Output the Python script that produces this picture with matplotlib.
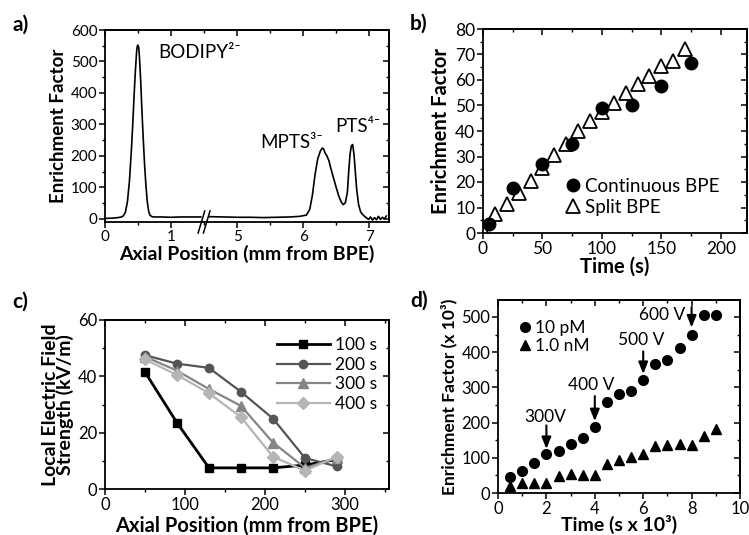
import numpy as np
import matplotlib
matplotlib.use('Agg')
import matplotlib.pyplot as plt
from matplotlib.ticker import MultipleLocator, FixedLocator

plt.rcParams['font.family'] = ['Lato', 'DejaVu Sans']
plt.rcParams['axes.linewidth'] = 1.3

# ---- panel a: electropherogram (real axial position in mm) ----
a_left_pos = [0.00, 0.05, 0.10, 0.15, 0.20, 0.25, 0.28, 0.31, 0.34, 0.37, 0.40, 0.42, 0.44,
              0.46, 0.48, 0.49, 0.50, 0.51, 0.52, 0.54, 0.56, 0.58, 0.60, 0.62, 0.64, 0.66,
              0.68, 0.71, 0.75, 0.85, 1.00, 1.15, 1.30, 1.45]
a_left_val = [1, 2, 2, 3, 4, 6, 10, 22, 55, 120, 220, 300, 390,
              470, 535, 550, 552, 545, 520, 440, 340, 250, 170, 105, 55, 25,
              12, 7, 6, 6, 5, 6, 6, 6]
a_right_pos = [4.58, 4.80, 5.00, 5.20, 5.40, 5.60, 5.80, 5.95, 6.05, 6.10, 6.14, 6.18, 6.22,
               6.26, 6.29, 6.31, 6.33, 6.36, 6.39, 6.42, 6.46, 6.50, 6.54, 6.58, 6.61, 6.64,
               6.67, 6.69, 6.71, 6.73, 6.75, 6.77, 6.79, 6.81, 6.84, 6.87, 6.90, 6.93, 6.96,
               6.99, 7.02, 7.05, 7.08, 7.11, 7.14, 7.17, 7.20, 7.23, 7.26]
a_right_val = [7, 6, 5, 5, 4, 5, 6, 8, 12, 30, 75, 140, 190,
               215, 225, 222, 210, 200, 185, 160, 130, 100, 72, 52, 45, 52,
               85, 150, 205, 232, 236, 205, 150, 95, 45, 22, 14, 8, 3,
               -2, 6, -4, 4, -3, 8, -2, 5, 0, 9]
a_tick_real = [0, 1, 5, 6, 7]

# ---- panel b ----
b_cont_t = [5, 25, 50, 75, 100, 125, 150, 175]
b_cont_ef = [3.5, 17.5, 27, 35, 49, 50, 57.5, 66.5]
b_split_t = [1, 10, 20, 30, 40, 50, 60, 70, 80, 90, 100, 110, 120, 130, 140, 150, 160, 170]
b_split_ef = [0.5, 7.5, 11.5, 15.5, 20.5, 25.5, 30.5, 35, 40, 44, 47.5, 51, 55, 58.5, 61.5,
              65.5, 67.5, 72]

# ---- panel c ----
c_pos = [50, 90, 130, 170, 210, 250, 290]
c_100 = [41.5, 23.5, 7.5, 7.5, 7.5, 8.5, 10.5]
c_200 = [47.5, 44.5, 43, 34.5, 25, 11, 8]
c_300 = [47, 42, 35.5, 29.5, 16.5, 7.5, 11]
c_400 = [46, 40.5, 34, 25.5, 11.5, 6.5, 11.5]

# ---- panel d ----
d_t = [0.5, 1, 1.5, 2, 2.5, 3, 3.5, 4, 4.5, 5, 5.5, 6, 6.5, 7, 7.5, 8, 8.5, 9]
d_10pm = [45, 62, 85, 112, 120, 138, 155, 187, 258, 280, 290, 320, 365, 378, 413, 450, 505, 505]
d_1nm = [20, 27, 27, 27, 47, 53, 52, 52, 82, 95, 102, 112, 133, 135, 140, 137, 162, 182]
d_volt_labels = ['300V', '400 V', '500 V', '600 V']
d_volt_t = [2, 4, 6, 8]


def broken(x):
    # 0-1.5 mm kept, 4.5 mm onwards shifted left by 3 mm
    x = np.asarray(x, dtype=float)
    return np.where(x <= 1.5, x, x - 3.0)


def box_ticks(ax, xmaj, xmin, ymaj, ymin, size):
    ax.xaxis.set_major_locator(xmaj)
    ax.xaxis.set_minor_locator(xmin)
    ax.yaxis.set_major_locator(ymaj)
    ax.yaxis.set_minor_locator(ymin)
    ax.tick_params(which='major', direction='out', length=4, width=1.1, labelsize=size, pad=1.5)
    ax.tick_params(which='minor', direction='out', length=2.5, width=1.0)
    top = ax.secondary_xaxis('top')
    top.xaxis.set_major_locator(xmaj)
    top.xaxis.set_minor_locator(xmin)
    top.tick_params(which='major', direction='in', length=4, width=1.1, labeltop=False)
    top.tick_params(which='minor', direction='in', length=2.5, width=1.0)
    right = ax.secondary_yaxis('right')
    right.yaxis.set_major_locator(ymaj)
    right.yaxis.set_minor_locator(ymin)
    right.tick_params(which='major', direction='in', length=4, width=1.1, labelright=False)
    right.tick_params(which='minor', direction='in', length=2.5, width=1.0)
    for sec in (top, right):
        for s in sec.spines.values():
            s.set_linewidth(1.3)


W, H = 749, 535
fig = plt.figure(figsize=(W / 100, H / 100), dpi=100)


def px_axes(l, t, r, b):
    return fig.add_axes([l / W, 1 - b / H, (r - l) / W, (b - t) / H])


# ---------------- a ----------------
ax = px_axes(105, 30, 389, 222)
ax.plot(broken(a_left_pos), a_left_val, color='k', lw=1.2)
ax.plot(broken(a_right_pos), a_right_val, color='k', lw=1.2)
ax.set_xlim(0, 4.3)
ax.set_ylim(-10, 600)
box_ticks(ax, FixedLocator(broken(a_tick_real)), MultipleLocator(0.5),
          MultipleLocator(100), MultipleLocator(50), 11)
ax.set_xticklabels([str(v) for v in a_tick_real])
# axis break marks
for dx in (-0.04, 0.04):
    ax.plot([1.5 + dx - 0.05, 1.5 + dx + 0.05], [-45, 25], color='k', lw=1.1, clip_on=False)
ax.text(0.8, 527, 'BODIPY²⁻', fontsize=13.5, va='center')
ax.text(2.35, 244, 'MPTS³⁻', fontsize=13.5, va='center')
ax.text(3.48, 292, 'PTS⁴⁻', fontsize=13.5, va='center')
ax.set_xlabel('Axial Position (mm from BPE)', fontsize=14, fontweight='bold', labelpad=1)
ax.set_ylabel('Enrichment Factor', fontsize=13.5, fontweight='bold', labelpad=3)
fig.text(12 / W, 1 - 25 / H, 'a)', fontsize=15, fontweight='bold', va='center')

# ---------------- b ----------------
ax = px_axes(483, 29, 747, 233)
ax.plot(b_cont_t, b_cont_ef, 'o', color='k', ms=9, label='Continuous BPE', zorder=3)
ax.plot(b_split_t, b_split_ef, '^', mfc='white', mec='k', mew=1.3, ms=10, label='Split BPE',
        zorder=2)
ax.set_xlim(0, 222)
ax.set_ylim(0, 80)
box_ticks(ax, MultipleLocator(50), MultipleLocator(25), MultipleLocator(10), MultipleLocator(5), 12.5)
ax.legend(loc='lower left', bbox_to_anchor=(0.27, 0.02), frameon=False, fontsize=13.5,
          handlelength=0.6, handletextpad=0.35, borderpad=0.2, labelspacing=0.2)
ax.set_xlabel('Time (s)', fontsize=14.5, fontweight='bold', labelpad=0)
ax.set_ylabel('Enrichment Factor', fontsize=14.5, fontweight='bold', labelpad=3)
fig.text(410 / W, 1 - 24 / H, 'b)', fontsize=15, fontweight='bold', va='center')

# ---------------- c ----------------
ax = px_axes(105, 320, 389, 489)
ax.plot(c_pos, c_100, '-s', color='black', lw=2.0, ms=6, label='100 s')
ax.plot(c_pos, c_200, '-o', color='#555555', lw=1.6, ms=6, label='200 s')
ax.plot(c_pos, c_300, '-^', color='#858585', lw=1.6, ms=6.5, label='300 s')
ax.plot(c_pos, c_400, '-D', color='#b5b5b5', lw=1.6, ms=6, label='400 s')
ax.set_xlim(0, 355)
ax.set_ylim(0, 60)
box_ticks(ax, MultipleLocator(100), MultipleLocator(50), MultipleLocator(20), MultipleLocator(10), 12)
ax.legend(loc='upper right', bbox_to_anchor=(1.0, 0.97), frameon=False, fontsize=12.5,
          handlelength=3.0, handletextpad=0.3, borderpad=0.2, labelspacing=0.2)
ax.set_xlabel('Axial Position (mm from BPE)', fontsize=14.5, fontweight='bold', labelpad=2)
ax.set_ylabel('Local Electric Field\nStrength (kV/m)', fontsize=14, fontweight='bold',
              labelpad=3, linespacing=0.8)
fig.text(12 / W, 1 - 302 / H, 'c)', fontsize=15, fontweight='bold', va='center')

# ---------------- d ----------------
ax = px_axes(498, 300, 740, 493)
ax.plot(d_t, d_10pm, 'o', color='k', ms=7, label='10 pM')
ax.plot(d_t, d_1nm, '^', color='k', ms=7.5, label='1.0 nM')
ax.set_xlim(0, 10)
ax.set_ylim(0, 548)
box_ticks(ax, MultipleLocator(2), MultipleLocator(1), MultipleLocator(100), MultipleLocator(50), 12)
ax.legend(loc='upper left', bbox_to_anchor=(0.04, 0.96), frameon=False, fontsize=12.5,
          handlelength=0.6, handletextpad=0.3, borderpad=0.2, labelspacing=0.1)
d_text_xy = [(1.94, 216), (3.85, 307), (5.9, 434), (6.8, 505)]
d_arrow_from = [192, 275, 402, 528]
d_arrow_to = [125, 204, 338, 470]
for lab, t, (tx, ty), y0, y1 in zip(d_volt_labels, d_volt_t, d_text_xy, d_arrow_from, d_arrow_to):
    ax.text(tx, ty, lab, fontsize=12.5, ha='center', va='center')
    ax.annotate('', xy=(t, y1), xytext=(t, y0),
                arrowprops=dict(arrowstyle='-|>,head_length=0.5,head_width=0.2', color='k',
                                lw=1.5, mutation_scale=14, shrinkA=0, shrinkB=0))
ax.set_xlabel('Time (s x 10³)', fontsize=14, fontweight='bold', labelpad=-1)
ax.set_ylabel('Enrichment Factor (x 10³)', fontsize=12.5, fontweight='bold', labelpad=3)
fig.text(410 / W, 1 - 301 / H, 'd)', fontsize=15, fontweight='bold', va='center')

fig.savefig('out.png', dpi=100)
